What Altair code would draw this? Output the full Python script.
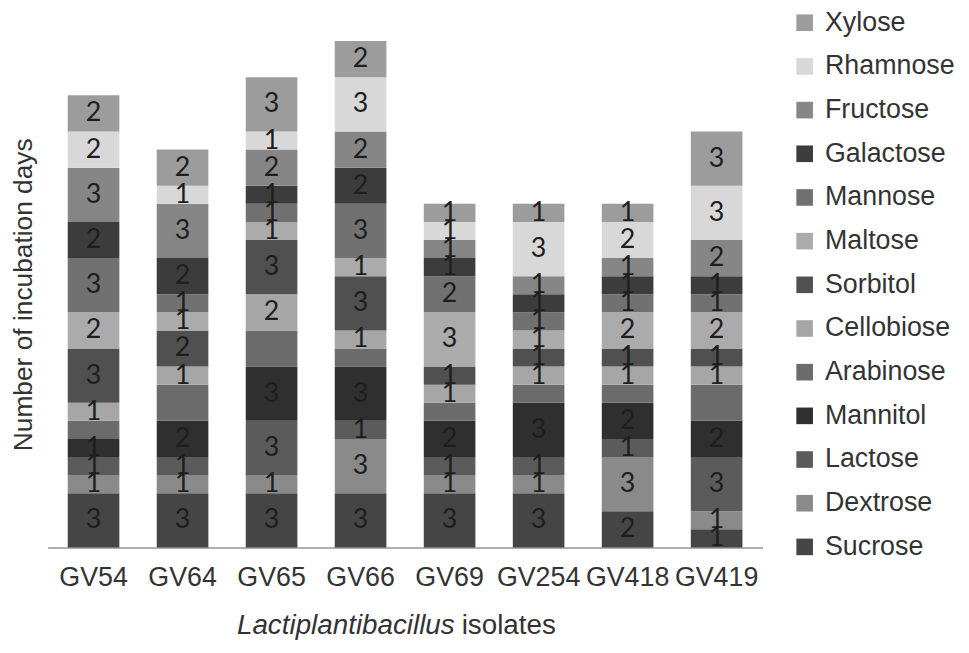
import altair as alt
import pandas as pd

isolates = ["GV54", "GV64", "GV65", "GV66", "GV69", "GV254", "GV418", "GV419"]
# stacking order, bottom to top
sugars = ["Sucrose", "Dextrose", "Lactose", "Mannitol", "Arabinose", "Cellobiose",
          "Sorbitol", "Maltose", "Mannose", "Galactose", "Fructose", "Rhamnose", "Xylose"]
sugar_colors = ["#454545", "#8a8a8a", "#5b5b5b", "#2f2f2f", "#6b6b6b", "#a6a6a6",
                "#505050", "#ababab", "#717171", "#3c3c3c", "#868686", "#d8d8d8", "#9c9c9c"]

sucrose = [3, 3, 3, 3, 3, 3, 2, 1]
dextrose = [1, 1, 1, 3, 1, 1, 3, 1]
lactose = [1, 1, 3, 1, 1, 1, 1, 3]
mannitol = [1, 2, 3, 3, 2, 3, 2, 2]
arabinose = [1, 2, 2, 1, 1, 1, 1, 2]
cellobiose = [1, 1, 2, 1, 1, 1, 1, 1]
sorbitol = [3, 2, 3, 3, 1, 1, 1, 1]
maltose = [2, 1, 1, 1, 3, 1, 2, 2]
mannose = [3, 1, 1, 3, 2, 1, 1, 1]
galactose = [2, 2, 1, 2, 1, 1, 1, 1]
fructose = [3, 3, 2, 2, 1, 1, 1, 2]
rhamnose = [2, 1, 1, 3, 1, 3, 2, 3]
xylose = [2, 2, 3, 2, 1, 1, 1, 3]

series = [sucrose, dextrose, lactose, mannitol, arabinose, cellobiose, sorbitol,
          maltose, mannose, galactose, fructose, rhamnose, xylose]

rows = []
for si, (s, vals) in enumerate(zip(sugars, series)):
    for iso, v in zip(isolates, vals):
        rows.append({"isolate": iso, "sugar": s, "value": v, "idx": si,
                     "label": "" if s == "Arabinose" else str(v)})
df = pd.DataFrame(rows)

W, H = 720, 510
FONT = "Liberation Sans"

x_enc = alt.X("isolate:N", sort=isolates,
              scale=alt.Scale(paddingInner=0.42, paddingOuter=0.225),
              axis=alt.Axis(title=None, labelAngle=0, labelFontSize=27, labelFont=FONT,
                            labelColor="#333333", labelPadding=17, ticks=False,
                            domainColor="#b0b0b0", domainWidth=2))

y_scale = alt.Scale(domain=[0, 28], nice=False)

bars = alt.Chart(df).mark_bar(stroke=None).encode(
    x=x_enc,
    y=alt.Y("sum(value):Q", scale=y_scale, stack="zero",
            axis=alt.Axis(title="Number of incubation days", labels=False, ticks=False,
                          domain=False, grid=False, titleFontSize=26.5, titleFont=FONT,
                          titleFontWeight="normal", titleColor="#333333", titlePadding=10)),
    color=alt.Color("sugar:N",
                    scale=alt.Scale(domain=sugars[::-1], range=sugar_colors[::-1]),
                    legend=alt.Legend(title=None, orient="none", legendX=749, legendY=-32,
                                      symbolType="square", symbolSize=280,
                                      symbolStrokeWidth=0, labelFontSize=27,
                                      labelFont=FONT, labelColor="#333333",
                                      labelOffset=7, rowPadding=16)),
    order=alt.Order("idx:Q", sort="ascending"),
)

labels = alt.Chart(df).transform_stack(
    stack="value", groupby=["isolate"], as_=["y0", "y1"],
    sort=[alt.SortField("idx", order="ascending")]
).transform_calculate(
    mid="(datum.y0 + datum.y1) / 2"
).mark_text(font="Lato", fontSize=27, color="#1e1e1e", baseline="middle").encode(
    x=alt.X("isolate:N", sort=isolates),
    y=alt.Y("mid:Q", scale=y_scale),
    text="label:N",
)

title_a = alt.Chart(pd.DataFrame({"t": ["Lactiplantibacillus"]})).mark_text(
    font=FONT, fontSize=28, fontStyle="italic", color="#333333", align="right",
    baseline="alphabetic").encode(x=alt.value(410), y=alt.value(H + 87), text="t:N")
title_b = alt.Chart(pd.DataFrame({"t": ["isolates"]})).mark_text(
    font=FONT, fontSize=28, color="#333333", align="left",
    baseline="alphabetic").encode(x=alt.value(417), y=alt.value(H + 87), text="t:N")

chart = alt.layer(bars, labels, title_a, title_b).properties(
    width=W, height=H,
    autosize=alt.AutoSizeParams(type="none"),
    padding={"left": 40, "top": 31, "right": 200, "bottom": 100},
    background="white",
).configure_view(strokeWidth=0)

chart.save("out.html", embed_options={"renderer": "svg", "actions": False})
